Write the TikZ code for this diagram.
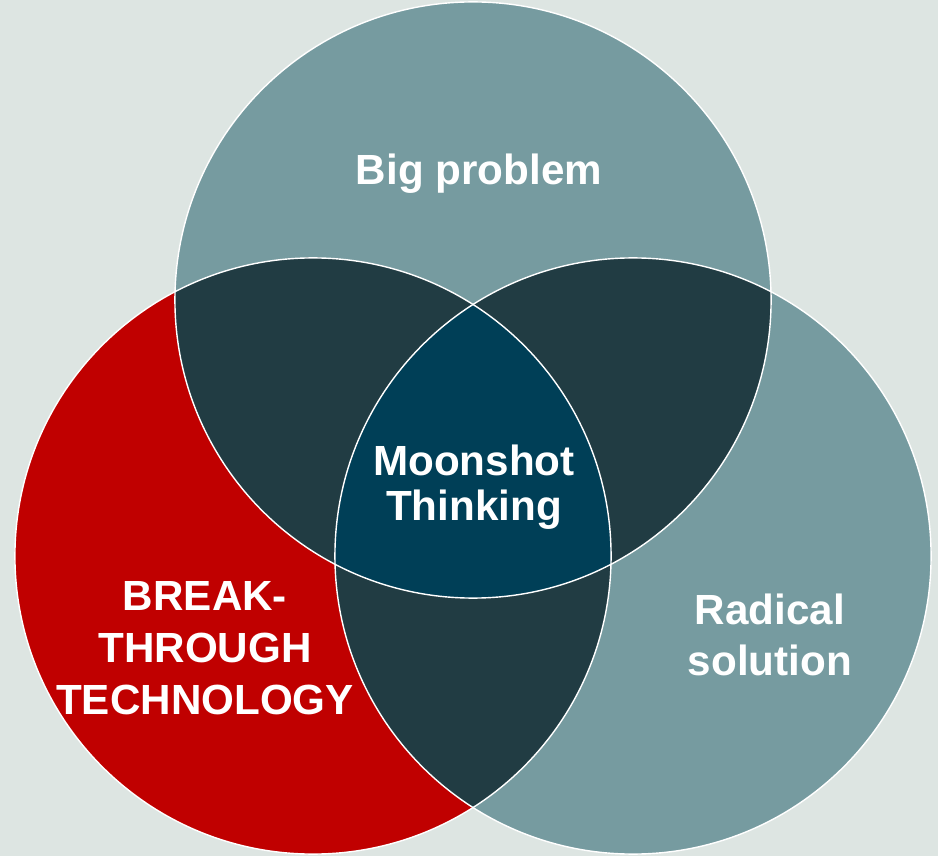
\documentclass[tikz,border=0pt]{standalone}
\usepackage{fontspec}
\setmainfont{Liberation Sans}

\definecolor{bgcol}{HTML}{DDE5E2}
\definecolor{tealcol}{HTML}{769BA0}
\definecolor{redcol}{HTML}{C00000}
\definecolor{darkcol}{HTML}{213C43}
\definecolor{navycol}{HTML}{003F57}

\tikzset{
  lbl/.style={text=white, align=center, inner sep=0pt},
  ring/.style={draw=white, line width=1pt},
}

\begin{document}
\begin{tikzpicture}[x=0.025cm,y=0.025cm]
    % background
    \fill[bgcol] (0,0) rectangle (938,856);
    % centres of the three sets
    \coordinate (problem) at (473,556);
    \coordinate (tech) at (313,300);
    \coordinate (solution) at (633,300);
    \def\rad{7.45cm}
    % plain sets
    \fill[tealcol] (problem) circle[radius=\rad];
    \fill[tealcol] (solution) circle[radius=\rad];
    \fill[redcol] (tech) circle[radius=\rad];
    % pairwise overlaps
    \begin{scope}
        \clip (problem) circle[radius=\rad];
        \fill[darkcol] (tech) circle[radius=\rad];
        \fill[darkcol] (solution) circle[radius=\rad];
    \end{scope}
    \begin{scope}
        \clip (tech) circle[radius=\rad];
        \fill[darkcol] (solution) circle[radius=\rad];
        % all three
        \clip (problem) circle[radius=\rad];
        \fill[navycol] (solution) circle[radius=\rad];
    \end{scope}
    % outlines
    \draw[ring] (problem) circle[radius=\rad];
    \draw[ring] (tech) circle[radius=\rad];
    \draw[ring] (solution) circle[radius=\rad];
    % labels
    \node[lbl, font=\bfseries\fontsize{30}{34}\selectfont] (bigproblem) at (479,682) {Big problem};
    \node[lbl, font=\bfseries\fontsize{30}{32}\selectfont] (moonshot) at (474,369) {Moonshot\\Thinking};
    \node[lbl, font=\bfseries\fontsize{30}{37}\selectfont] (breakthrough) at (205,208) {BREAK-\\THROUGH\\TECHNOLOGY};
    \node[lbl, font=\bfseries\fontsize{30}{36}\selectfont] (radical) at (770,221) {Radical\\solution};
\end{tikzpicture}
\end{document}
